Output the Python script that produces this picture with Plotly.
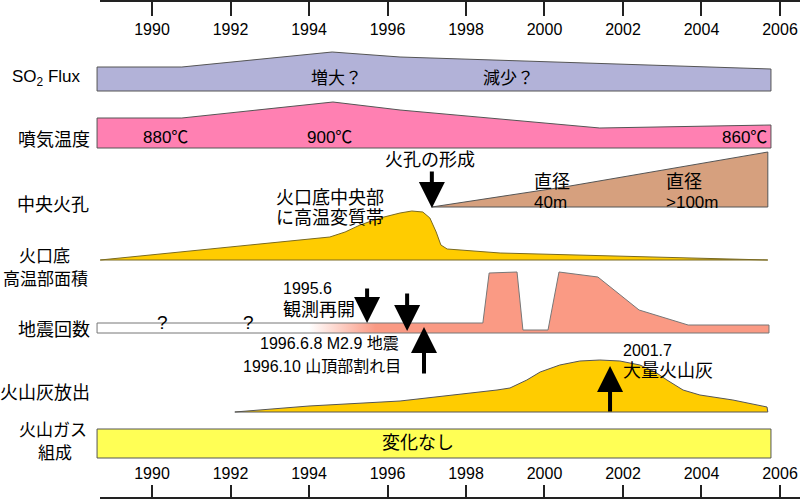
import plotly.graph_objects as go

# ---------------- data ----------------
tick_years = [1990, 1992, 1994, 1996, 1998, 2000, 2002, 2004, 2006]

# SO2 flux band (level above row base)
so2_years = [1988.60, 1990.76, 1994.59, 1996.32, 2005.77]
so2_level = [24, 24, 39, 34, 22]

# fumarole temperature band
temp_years = [1988.60, 1990.76, 1994.61, 1996.32, 2001.41, 2005.77]
temp_level = [30, 30, 46, 38, 20, 23]

# central vent (diameter growth)
vent_years = [1997.13, 2000.65, 2005.69]
vent_level = [0, 21, 55]

# crater-floor high-temperature area
crater_years = [1988.68, 1994.53, 1994.92, 1995.30, 1995.81, 1996.32, 1996.62, 1996.90,
                1997.08, 1997.24, 1997.36, 1997.52, 1998.87, 2001.41, 2003.96, 2005.69]
crater_level = [0, 23, 28, 35, 42, 47, 49, 48, 42, 28, 15, 11, 7, 4.5, 1.5, 0]

# number of earthquakes
quake_years = [1988.60, 1998.43, 1998.59, 1999.30, 1999.45, 2000.09, 2000.37,
               2001.36, 2002.41, 2003.66, 2005.72]
quake_level = [10, 10, 60, 61, 3, 3, 61, 56, 23, 8, 8]

# ash emission
ash_years = [1992.11, 1994.00, 1996.32, 1998.00, 1998.79, 1999.12, 1999.55, 1999.89,
             2000.39, 2000.90, 2001.41, 2001.92, 2002.43, 2002.82, 2003.12, 2003.53,
             2003.96, 2004.80, 2005.67, 2005.69]
ash_level = [0, 6, 11, 18, 22, 24, 32, 40, 47, 51, 52, 51, 47, 40, 32, 22, 17, 12, 5, 0]

# volcanic gas composition
gas_years = [1988.60, 2005.77]
gas_level = [29, 29]

# events (decimal year)
ev_vent = 1997.13
ev_obs = 1995.48
ev_m29 = 1996.50
ev_crack = 1996.93
ev_ash = 2001.67

# ---------------- figure ----------------
JP = "Noto Sans CJK JP"
MIX = "Liberation Sans, Arial, Noto Sans CJK JP"
EDGE = "#555555"

fig = go.Figure()


def band(years, levels, base, **kw):
    xs = [years[0]] + list(years) + [years[-1], years[0]]
    ys = [base] + [base - v for v in levels] + [base, base]
    fig.add_trace(go.Scatter(x=xs, y=ys, mode="lines", fill="toself",
                             hoverinfo="skip", showlegend=False, **kw))


band(so2_years, so2_level, 91, fillcolor="#B2B2D8", line=dict(color=EDGE, width=1))
band(temp_years, temp_level, 148, fillcolor="#FF80B2", line=dict(color=EDGE, width=1))
band(vent_years, vent_level, 207, fillcolor="#D6A07E", line=dict(color=EDGE, width=1))
band(crater_years, crater_level, 260,
     fillgradient=dict(type="horizontal", start=2003.5, stop=2005.69,
                       colorscale=[[0, "#FFCC00"], [1, "#4A4A4A"]]),
     line=dict(color="#7A6A20", width=1))
band(quake_years, quake_level, 333,
     fillgradient=dict(type="horizontal", start=1994.0, stop=1995.7,
                       colorscale=[[0, "#FFFFFF"], [1, "#FA9A84"]]),
     line=dict(color="#777777", width=1))
band(ash_years, ash_level, 412, fillcolor="#FFCC00", line=dict(color=EDGE, width=1))
band(gas_years, gas_level, 458, fillcolor="#FFFF55", line=dict(color=EDGE, width=1))

# axis base lines
for yy in (1, 498):
    fig.add_shape(type="line", xref="x", yref="y", x0=1988.675, x1=2006.51, y0=yy, y1=yy,
                  line=dict(color="#222222", width=2))

ann = []


def txt(px, py, s, size=17, xanchor="center", family=MIX):
    ann.append(dict(x=px / 800, y=py, xref="paper", yref="y", text=s, showarrow=False,
                    xanchor=xanchor, yanchor="middle", borderpad=0,
                    font=dict(family=family, size=size, color="black")))


def arrow(xv, tip, tail):
    ann.append(dict(x=xv, y=tip, ax=xv, ay=tail, xref="x", yref="y", axref="x", ayref="y",
                    text="", showarrow=True, arrowhead=2, arrowsize=1.3, arrowwidth=4,
                    arrowcolor="black", standoff=0))


# row labels
txt(46.5, 78, "SO<sub>2</sub> Flux", size=17)
txt(54, 138, "噴気温度", size=18, family=JP)
txt(53, 203, "中央火孔", size=18, family=JP)
txt(44, 254, "火口底", size=17, family=JP)
txt(45, 277, "高温部面積", size=17, family=JP)
txt(54, 328, "地震回数", size=18, family=JP)
txt(45, 391, "火山灰放出", size=18, family=JP)
txt(53, 428, "火山ガス", size=17, family=JP)
txt(54.5, 451, "組成", size=17, family=JP)

# in-chart text
txt(336, 78, "増大？", size=17)
txt(508, 78, "減少？", size=17)
txt(165, 137, "880℃", size=17)
txt(329, 137, "900℃", size=17)
txt(744, 137, "860℃", size=17)
txt(430, 160, "火孔の形成", size=18)
txt(275, 198, "火口底中央部", size=18, xanchor="left")
txt(275, 218, "に高温変質帯", size=18, xanchor="left")
txt(533, 182, "直径", size=18, xanchor="left")
txt(533, 202, "40m", size=17, xanchor="left")
txt(665, 182, "直径", size=18, xanchor="left")
txt(665, 202, "&gt;100m", size=17, xanchor="left")
txt(162, 322, "?", size=19)
txt(248, 322, "?", size=19)
txt(282, 288, "1995.6", size=16, xanchor="left")
txt(282, 310, "観測再開", size=18, xanchor="left")
txt(259, 343, "1996.6.8 M2.9 地震", size=16, xanchor="left")
txt(242, 366, "1996.10 山頂部割れ目", size=16, xanchor="left")
txt(622, 350, "2001.7", size=16, xanchor="left")
txt(622, 371, "大量火山灰", size=18, xanchor="left")
txt(418, 443, "変化なし", size=18)

# arrows
arrow(ev_vent, 208, 170)
arrow(ev_obs, 323, 287)
arrow(ev_m29, 331, 292)
arrow(ev_crack, 327, 375)
arrow(ev_ash, 366, 413)

axis_common = dict(range=[1986.127, 2006.51], tickvals=tick_years, ticks="outside",
                   tickwidth=1.5, tickcolor="#222222", showline=False, showgrid=False,
                   zeroline=False, tickfont=dict(family=MIX, size=16, color="black"))

fig.update_layout(
    width=800, height=500,
    margin=dict(l=0, r=0, t=0, b=0),
    paper_bgcolor="white", plot_bgcolor="white",
    xaxis=dict(anchor="free", position=0.004, side="top", ticklen=13, **axis_common),
    xaxis2=dict(anchor="free", position=0.998, side="bottom", overlaying="x",
                ticklen=14, **axis_common),
    yaxis=dict(range=[500, 0], visible=False, domain=[0, 1]),
    annotations=ann,
    showlegend=False,
)

# empty trace so the top axis is drawn
fig.add_trace(go.Scatter(x=[None], y=[None], xaxis="x2", yaxis="y", mode="markers",
                         hoverinfo="skip", showlegend=False))

fig.write_html("out.html", config={"displayModeBar": False},
               post_script="document.body.style.margin='0';")
